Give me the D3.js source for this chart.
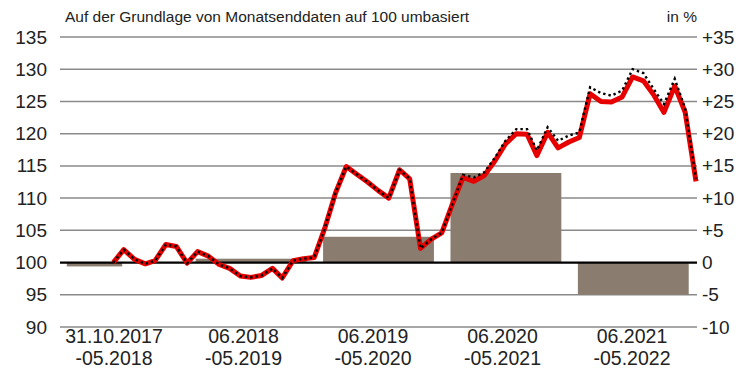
<!DOCTYPE html>
<html>
<head>
<meta charset="utf-8">
<script src="https://cdn.jsdelivr.net/npm/d3@7"></script>
<style>
  html, body { margin: 0; padding: 0; background: #fff; }
  svg { display: block; }
  text { font-family: "Liberation Sans Narrow", "Liberation Sans", Arial, sans-serif; fill: #222; }
</style>
</head>
<body>
<svg id="chart" width="742" height="371"></svg>
<script>
// Fund vs. benchmark, month-end values rebased to 100 at 31.10.2017
const fundIndex = [
  100.0, 102.0, 100.5, 99.8, 100.3, 102.8, 102.5, 99.9, 101.7, 101.0,
  99.7, 99.1, 97.9, 97.7, 98.0, 99.1, 97.6, 100.3, 100.6, 100.8,
  105.3, 110.8, 114.9, 113.7, 112.5, 111.2, 110.0, 114.4, 113.0, 102.2,
  103.6, 104.6, 109.0, 113.2, 112.6, 113.5, 115.8, 118.4, 120.0, 119.9,
  116.6, 120.2, 117.8, 118.7, 119.4, 126.2, 125.0, 124.9, 125.7, 128.8,
  128.2, 125.9, 123.3, 127.4, 123.3, 112.6
];
const benchmarkIndex = [
  100.0, 102.0, 100.5, 99.8, 100.3, 102.8, 102.5, 99.9, 101.7, 101.0,
  99.7, 99.1, 97.9, 97.7, 98.0, 99.1, 97.6, 100.3, 100.6, 100.8,
  105.3, 110.8, 114.9, 113.7, 112.5, 111.2, 110.0, 114.4, 113.0, 102.2,
  103.6, 104.6, 109.0, 113.6, 113.2, 114.0, 116.3, 118.9, 120.7, 120.7,
  117.4, 121.0, 118.9, 119.7, 120.2, 127.2, 126.3, 125.9, 126.7, 130.0,
  129.4, 126.8, 124.6, 128.5, 123.9, 113.0
];

// Periodic returns in % (right axis)
const periodFrom = ["31.10.2017", "06.2018", "06.2019", "06.2020", "06.2021"];
const periodTo = ["-05.2018", "-05.2019", "-05.2020", "-05.2021", "-05.2022"];
const periodReturn = [-0.6, 0.6, 4.0, 13.9, -5.0];

const leftTicks = [90, 95, 100, 105, 110, 115, 120, 125, 130, 135];
const rightTicks = [-10, -5, 0, 5, 10, 15, 20, 25, 30, 35];

const titleText = "Auf der Grundlage von Monatsenddaten auf 100 umbasiert";
const unitText = "in %";

// Month-end dates of the index series (from 31.10.2017)
const monthEnds = fundIndex.map((_, i) => new Date(2017, 10 + i, 0));

const svg = d3.select("#chart");
const plotLeft = 60, plotRight = 697, plotTop = 37, plotBottom = 327;

const yLeft = d3.scaleLinear().domain([90, 135]).range([plotBottom, plotTop]);
const yRight = d3.scaleLinear().domain([-10, 35]).range([plotBottom, plotTop]);
const xTime = d3.scaleTime()
  .domain([new Date(2017, 4, 31), new Date(2022, 4, 31)])
  .range([plotLeft, plotRight - 1]);
const xBand = d3.scaleBand()
  .domain(periodFrom)
  .range([plotLeft, plotRight])
  .paddingInner(0.13)
  .paddingOuter(0.065);
const xLabel = d3.scalePoint()
  .domain(periodFrom)
  .range([114, 632]);

// Horizontal gridlines
svg.append("g")
  .selectAll("line")
  .data(leftTicks.filter(d => d !== 100))
  .join("line")
  .attr("x1", plotLeft).attr("x2", plotRight)
  .attr("y1", d => yLeft(d)).attr("y2", d => yLeft(d))
  .attr("stroke", "#8a8a8a")
  .attr("stroke-width", 1.5);

// Return bars (first period is a partial year)
svg.append("g")
  .selectAll("rect")
  .data(periodReturn)
  .join("rect")
  .attr("x", (d, i) => xBand(periodFrom[i]) - (i === 0 ? 1.5 : 0))
  .attr("width", (d, i) => i === 0 ? xBand.bandwidth() / 2 : xBand.bandwidth())
  .attr("y", d => yRight(Math.max(0, d)))
  .attr("height", d => Math.abs(yRight(d) - yRight(0)))
  .attr("fill", "#8a7d70");

// Baseline (100 / 0)
svg.append("line")
  .attr("x1", plotLeft).attr("x2", plotRight)
  .attr("y1", yLeft(100)).attr("y2", yLeft(100))
  .attr("stroke", "#000")
  .attr("stroke-width", 2.2);

const line = d3.line()
  .x((d, i) => xTime(monthEnds[i]))
  .y(d => yLeft(d));

svg.append("path")
  .datum(fundIndex)
  .attr("d", line)
  .attr("fill", "none")
  .attr("stroke", "#e60000")
  .attr("stroke-width", 5)
  .attr("stroke-linejoin", "round");

svg.append("path")
  .datum(benchmarkIndex)
  .attr("d", line)
  .attr("fill", "none")
  .attr("stroke", "#000")
  .attr("stroke-width", 2.4)
  .attr("stroke-dasharray", "2.4,3");

// Left axis labels
svg.append("g")
  .selectAll("text")
  .data(leftTicks)
  .join("text")
  .attr("x", 47)
  .attr("y", d => yLeft(d) + 6.5)
  .attr("text-anchor", "end")
  .attr("font-size", 19)
  .text(d => d);

// Right axis labels
svg.append("g")
  .selectAll("text")
  .data(rightTicks)
  .join("text")
  .attr("x", 702)
  .attr("y", d => yRight(d) + 6.5)
  .attr("text-anchor", "start")
  .attr("font-size", 19)
  .text(d => d > 0 ? "+" + d : String(d));

// Period labels, two lines each
const catFrom = svg.append("g")
  .selectAll("text")
  .data(periodFrom)
  .join("text")
  .attr("x", d => xLabel(d))
  .attr("y", 342.5)
  .attr("text-anchor", "middle")
  .attr("font-size", 19.5)
  .text(d => d);
const catTo = svg.append("g")
  .selectAll("text")
  .data(periodTo)
  .join("text")
  .attr("x", (d, i) => xLabel(periodFrom[i]))
  .attr("y", 365)
  .attr("text-anchor", "middle")
  .attr("font-size", 19.5)
  .text(d => d);

// Header texts
svg.append("text")
  .attr("x", 65).attr("y", 22)
  .attr("font-size", 15.5)
  .text(titleText);
svg.append("text")
  .attr("x", 697).attr("y", 22)
  .attr("text-anchor", "end")
  .attr("font-size", 15.5)
  .text(unitText);
</script>
</body>
</html>
